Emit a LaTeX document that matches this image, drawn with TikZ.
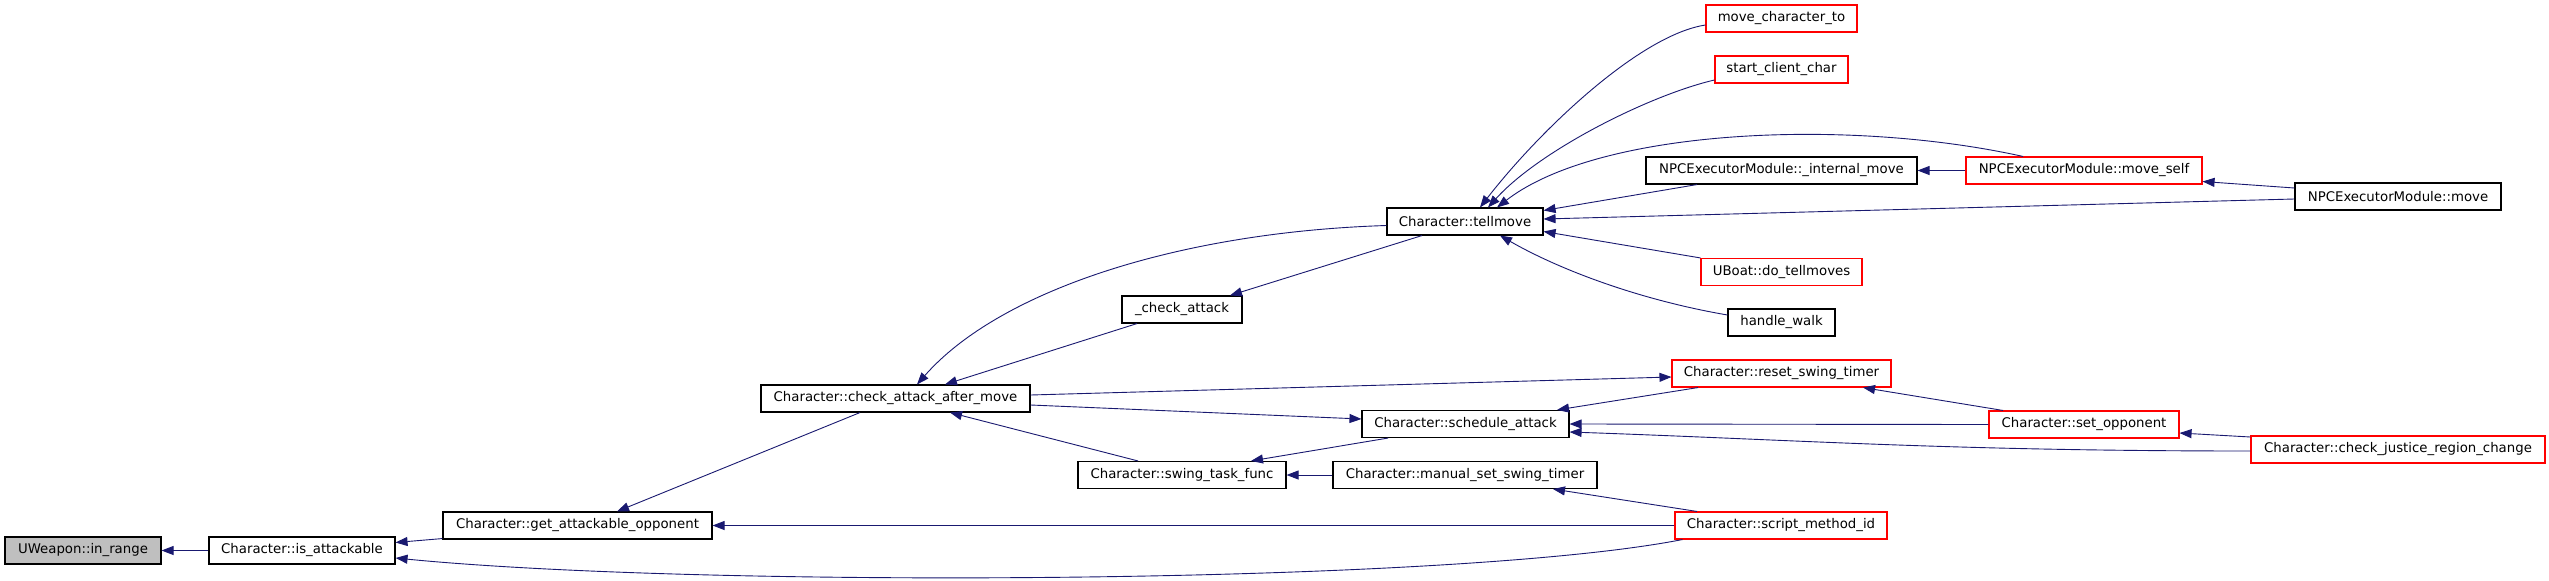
\documentclass[tikz,border=0pt]{standalone}
\usepackage{fontspec}
\setmainfont{DejaVu Sans}
\usetikzlibrary{arrows.meta}
\definecolor{edgeblue}{HTML}{191970}
\definecolor{redbox}{HTML}{FF0000}
\definecolor{grayfill}{HTML}{BFBFBF}
\begin{document}
\begin{tikzpicture}[x=1pt,y=-1pt,
  fn/.style={draw=black,line width=1.1pt,fill=white,inner sep=0pt,minimum height=27pt,font=\fontsize{13.3}{16}\selectfont},
  fnred/.style={fn,draw=redbox},
  fngray/.style={fn,fill=grayfill},
  edge/.style={draw=edgeblue,line width=0.9pt,-{Triangle[length=12pt,width=9pt]}}]
\useasboundingbox (0,0) rectangle (2549,581);
\fill[white] (0,0) rectangle (2549,581);
% nodes
\node[fngray,minimum width=156pt] (inrange) at (83,550.5) {UWeapon::in\_range};
\node[fn,minimum width=186pt] (isatt) at (302,550.5) {Character::is\_attackable};
\node[fn,minimum width=269pt] (getatt) at (577.5,525.5) {Character::get\_attackable\_opponent};
\node[fn,minimum width=269pt] (catam) at (895.5,398.5) {Character::check\_attack\_after\_move};
\node[fn,minimum width=120pt] (chkatt) at (1182,309.5) {\_check\_attack};
\node[fn,minimum width=208pt] (swing) at (1182,475) {Character::swing\_task\_func};
\node[fn,minimum width=156pt] (tellmove) at (1465,221.5) {Character::tellmove};
\node[fn,minimum width=207pt] (sched) at (1465.5,424) {Character::schedule\_attack};
\node[fn,minimum width=264pt] (manual) at (1465,475) {Character::manual\_set\_swing\_timer};
\node[fnred,minimum width=151pt] (mct) at (1781.5,18.5) {move\_character\_to};
\node[fnred,minimum width=133pt] (scc) at (1781.5,69.5) {start\_client\_char};
\node[fn,minimum width=271pt] (intmove) at (1781.5,170.5) {NPCExecutorModule::\_internal\_move};
\node[fnred,minimum width=161pt] (dotell) at (1781.5,272) {UBoat::do\_tellmoves};
\node[fn,minimum width=107pt] (hwalk) at (1781.5,322.5) {handle\_walk};
\node[fnred,minimum width=219pt] (reset) at (1781.5,373.5) {Character::reset\_swing\_timer};
\node[fnred,minimum width=212pt] (script) at (1781,525.5) {Character::script\_method\_id};
\node[fnred,minimum width=236pt] (moveself) at (2084,170.5) {NPCExecutorModule::move\_self};
\node[fnred,minimum width=190pt] (setopp) at (2084,424.5) {Character::set\_opponent};
\node[fn,minimum width=206pt] (npcmove) at (2398,196.5) {NPCExecutorModule::move};
\node[fnred,minimum width=294pt] (justice) at (2398,449.5) {Character::check\_justice\_region\_change};
% edges
\draw[edge] (isatt.west) -- (inrange.east);
\draw[edge] ([yshift=1pt]getatt.south west) -- ([yshift=8pt]isatt.east);
\draw[edge] ([xshift=8pt]script.south west) .. controls (1450,585) and (700,588) .. ([yshift=-7.5pt]isatt.east);
\draw[edge] ([xshift=-35.5pt]catam.south) -- ([xshift=39.5pt]getatt.north);
\draw[edge] (script.west) -- (getatt.east);
\draw[edge] ([yshift=-4pt]tellmove.west) .. controls (1180,232) and (1000,290) .. ([xshift=21.5pt]catam.north);
\draw[edge] ([xshift=-45pt]chkatt.south) -- ([xshift=49.5pt]catam.north);
\draw[edge] ([xshift=-43pt]tellmove.south) -- ([xshift=48pt]chkatt.north);
\draw[edge] ([yshift=3.5pt]catam.east) -- ([yshift=-3.5pt]reset.west);
\draw[edge] ([yshift=-6.5pt]catam.east) -- ([yshift=5pt]sched.west);
\draw[edge] ([xshift=-44pt]swing.north) -- ([xshift=54.5pt]catam.south);
\draw[edge] ([xshift=-77.5pt]sched.south) -- ([xshift=69pt]swing.north);
\draw[edge] (manual.west) -- (swing.east);
\draw[edge] ([xshift=-83.5pt]reset.south) -- ([xshift=91.5pt]sched.north);
\draw[edge] (setopp.west) -- (sched.east);
\draw[edge] ([yshift=-1.5pt]justice.west) .. controls (1950,451) and (1800,440) .. ([yshift=-8pt]sched.east);
\draw[edge] ([xshift=-81pt]setopp.north) -- ([xshift=81.5pt]reset.south);
\draw[edge] ([yshift=12.5pt]justice.west) -- ([yshift=-8.5pt]setopp.east);
\draw[edge] ([xshift=-84pt]script.north) -- ([xshift=88pt]manual.south);
\draw[edge] ([yshift=-6.5pt]mct.west) .. controls (1640,35) and (1540,130) .. ([xshift=15pt]tellmove.north);
\draw[edge] ([yshift=-10.5pt]scc.west) .. controls (1650,95) and (1540,150) .. ([xshift=23pt]tellmove.north);
\draw[edge] ([xshift=-61pt]moveself.north) .. controls (1850,118) and (1600,128) .. ([xshift=32pt]tellmove.north);
\draw[edge] ([xshift=-84.5pt]intmove.south) -- ([yshift=11pt]tellmove.east);
\draw[edge] ([yshift=-2.5pt]npcmove.west) -- ([yshift=2.5pt]tellmove.east);
\draw[edge] (dotell.north west) -- ([yshift=-10pt]tellmove.east);
\draw[edge] ([yshift=7.5pt]hwalk.west) .. controls (1640,300) and (1560,270) .. ([xshift=35pt]tellmove.south);
\draw[edge] (moveself.west) -- (intmove.east);
\draw[edge] ([yshift=8.5pt]npcmove.west) -- ([yshift=-11pt]moveself.east);
\end{tikzpicture}
\end{document}
